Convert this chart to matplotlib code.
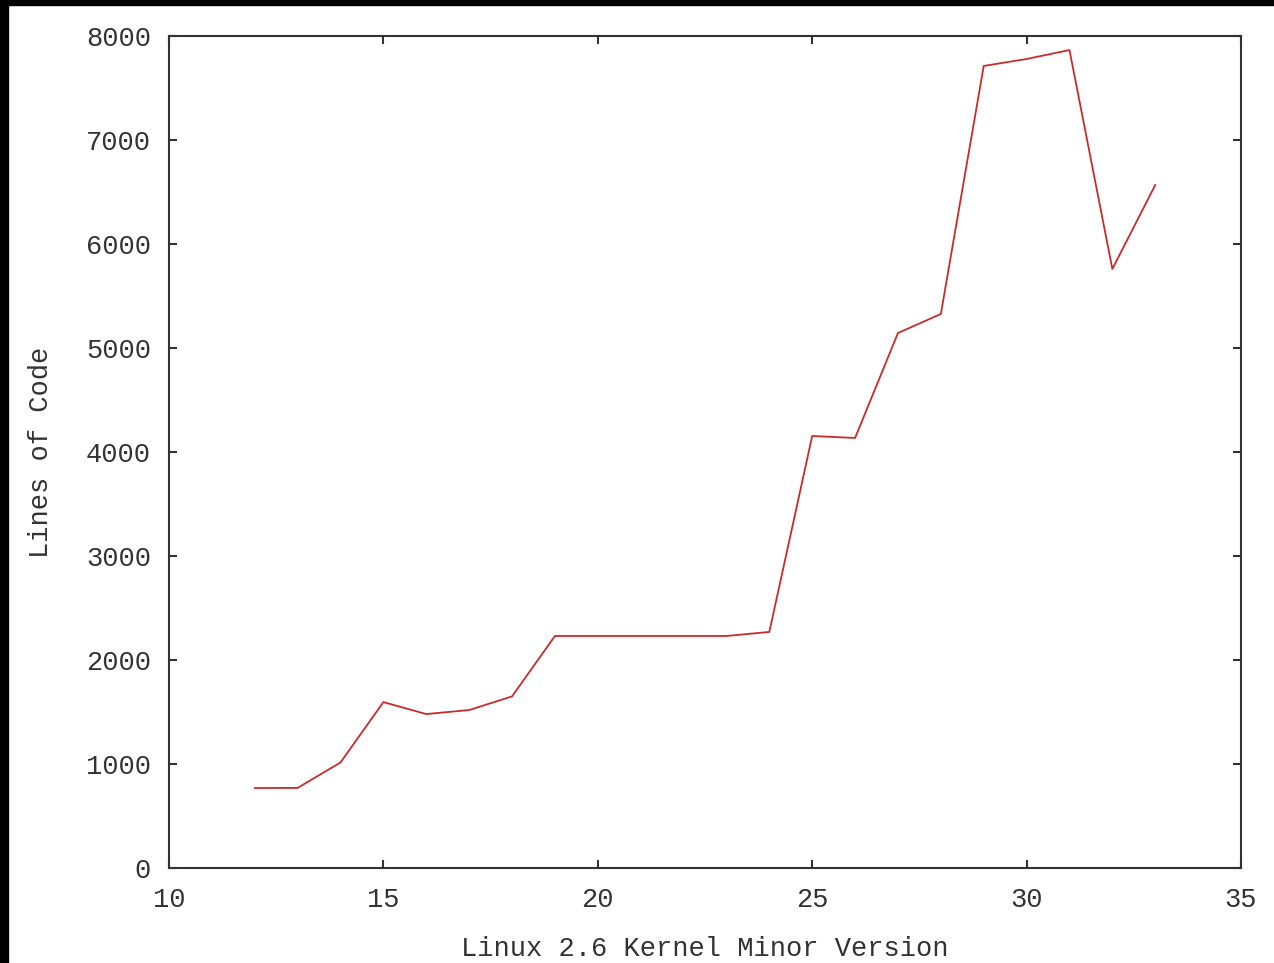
import matplotlib
matplotlib.use("Agg")
import matplotlib.pyplot as plt
from matplotlib.patches import Rectangle

versions = [12, 13, 14, 15, 16, 17, 18, 19, 20, 21, 22, 23, 24, 25, 26, 27, 28, 29, 30, 31, 32, 33]
lines_of_code = [769, 770, 1015, 1595, 1480, 1519, 1650, 2231, 2231, 2231, 2231, 2231, 2270,
                 4154, 4135, 5144, 5327, 7712, 7779, 7865, 5760, 6567]
xticks = [10, 15, 20, 25, 30, 35]
yticks = [0, 1000, 2000, 3000, 4000, 5000, 6000, 7000, 8000]

plt.rcParams['font.family'] = ['Liberation Mono', 'DejaVu Sans Mono']
fig = plt.figure(figsize=(12.74, 9.63), dpi=100)
fig.patch.set_facecolor('white')
# black border strips at left and top of the image
fig.patches.append(Rectangle((0, 0), 8 / 1274, 1, transform=fig.transFigure,
                             color='black', zorder=0))
fig.patches.append(Rectangle((0, 1 - 5 / 963), 1, 5 / 963, transform=fig.transFigure,
                             color='black', zorder=0))

fs = 19.5
ax = fig.add_axes([169 / 1274, 1 - 868 / 963, 1072 / 1274, 832 / 963])
ax.plot(versions, lines_of_code, color='#cc2a2a', lw=1.3)
ax.set_xlim(10, 35)
ax.set_ylim(0, 8000)
ax.set_xticks(xticks)
ax.set_yticks(yticks)
ax.tick_params(direction='in', length=6, width=1.5, color='#333333',
               top=True, right=True, labelsize=fs, labelcolor='#333333')
ax.tick_params(axis='y', pad=13)
ax.tick_params(axis='x', pad=14)
for s in ax.spines.values():
    s.set_linewidth(1.5)
    s.set_color('#333333')
ax.set_xlabel('Linux 2.6 Kernel Minor Version', fontsize=fs, color='#333333', labelpad=16)
ax.set_ylabel('Lines of Code', fontsize=fs, color='#333333', labelpad=23)

fig.savefig('out.png', dpi=100, facecolor='white')
